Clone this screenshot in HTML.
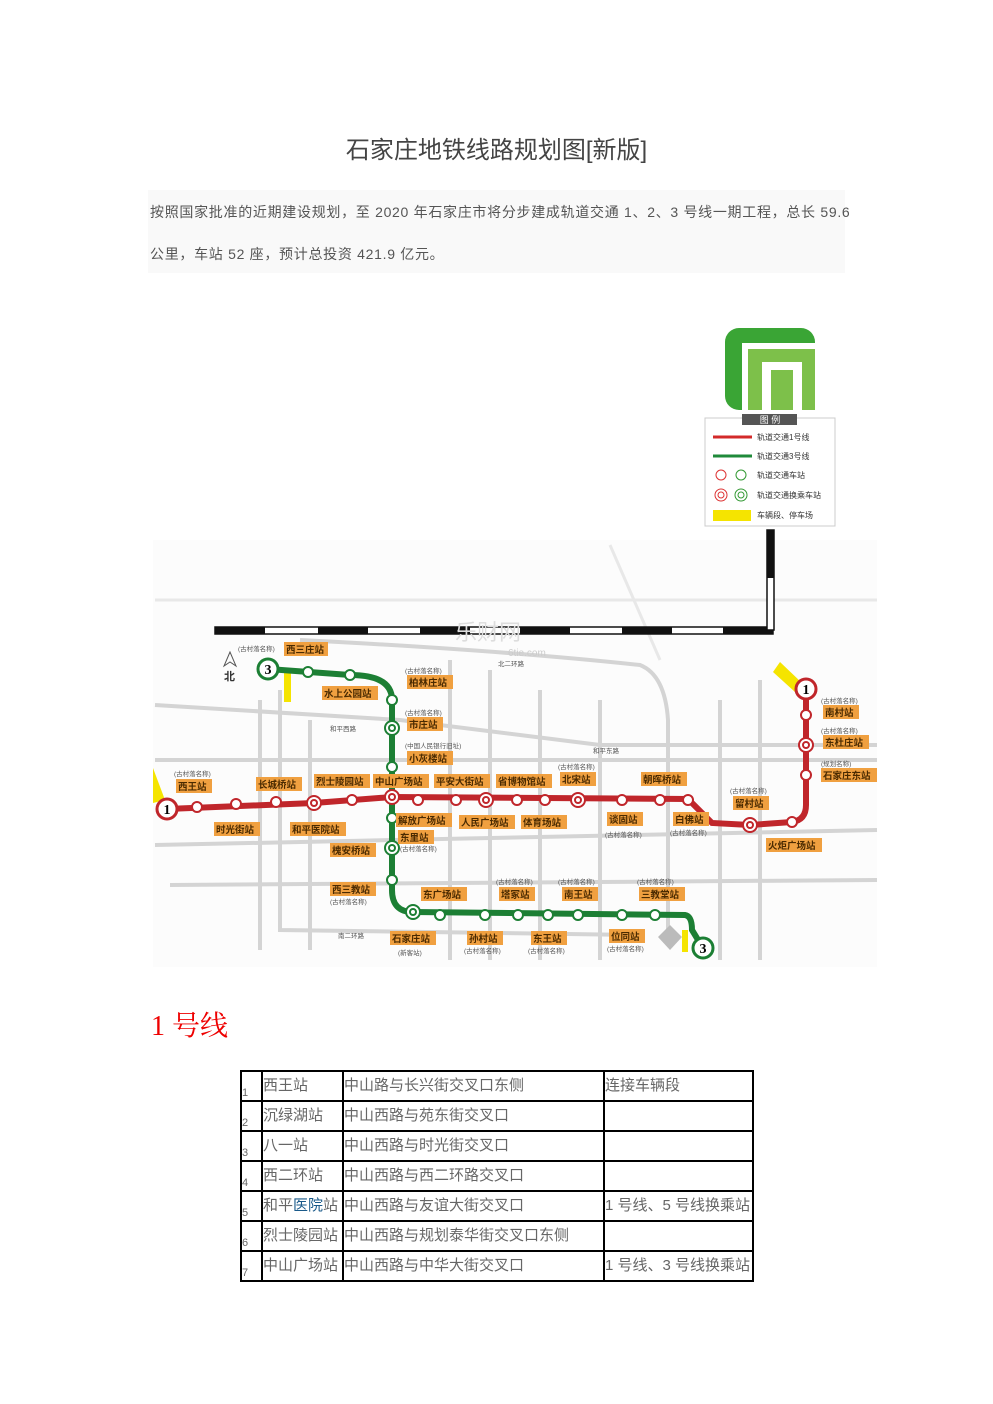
<!DOCTYPE html>
<html><head><meta charset="utf-8"><style>
body{margin:0;width:993px;height:1404px;background:#fff;position:relative;font-family:"Liberation Sans","Noto Sans CJK SC",sans-serif;overflow:hidden}
.a{position:absolute}
table{position:absolute;left:240px;top:1070px;border-collapse:collapse;width:514px}
td{border:2px solid #000;height:28px;padding:0;font-size:15px;color:#666;vertical-align:middle;white-space:nowrap;line-height:28px;overflow:hidden}
td.n{font-size:11px;vertical-align:bottom;line-height:14px}
</style></head><body>
<div class="a" style="left:0;width:993px;top:130px;text-align:center;font-size:24px;color:#444;">石家庄地铁线路规划图[新版]</div>
<div class="a" style="left:148px;top:190px;width:697px;height:83px;background:#f9f9f9"></div>
<div class="a" style="left:150px;top:202px;font-size:14px;letter-spacing:0.7px;color:#555;white-space:nowrap">按照国家批准的近期建设规划，至 2020 年石家庄市将分步建成轨道交通 1、2、3 号线一期工程，总长 59.6</div>
<div class="a" style="left:150px;top:244px;font-size:14px;letter-spacing:0.7px;color:#555;white-space:nowrap">公里，车站 52 座，预计总投资 421.9 亿元。</div>

<svg class="a" style="left:0;top:0" width="993" height="1000" viewBox="0 0 993 1000" font-family="Liberation Sans,Noto Sans CJK SC,sans-serif">
<rect x="725" y="328" width="90" height="82" rx="14" fill="#3aa535"/>
<rect x="742" y="343" width="73" height="67" fill="#fff"/>
<rect x="748" y="349" width="67" height="61" fill="#7dc04a"/>
<rect x="762" y="362" width="40" height="48" fill="#fff"/>
<rect x="771" y="370" width="22" height="40" fill="#7dc04a"/>
<rect x="705" y="418" width="130" height="108" fill="#fff" stroke="#ccc"/>
<rect x="742" y="414" width="55" height="11" fill="#555"/>
<text x="770" y="423" font-size="9" fill="#fff" text-anchor="middle">图 例</text>
<line x1="713" y1="437" x2="752" y2="437" stroke="#d32a2a" stroke-width="3"/>
<line x1="713" y1="456" x2="752" y2="456" stroke="#1f8a3a" stroke-width="3"/>
<circle cx="721" cy="475" r="5" fill="none" stroke="#d33"/><circle cx="741" cy="475" r="5" fill="none" stroke="#393"/>
<circle cx="721" cy="495" r="6" fill="none" stroke="#d33"/><circle cx="721" cy="495" r="3" fill="none" stroke="#d33"/>
<circle cx="741" cy="495" r="6" fill="none" stroke="#393"/><circle cx="741" cy="495" r="3" fill="none" stroke="#393"/>
<rect x="713" y="510" width="38" height="11" fill="#f5e400"/>
<g font-size="8" fill="#333"><text x="757" y="440">轨道交通1号线</text><text x="757" y="459">轨道交通3号线</text><text x="757" y="478">轨道交通车站</text><text x="757" y="498">轨道交通换乘车站</text><text x="757" y="518">车辆段、停车场</text></g>
<rect x="153" y="540" width="724" height="427" fill="#fcfcfc"/>
<g stroke="#d4d4d4" stroke-width="4" fill="none">
<path d="M300 640 Q500 650 640 665 Q665 675 668 720 L668 935"/>
<path d="M280 690 L280 930 L640 935"/>
<path d="M155 705 L400 720 L600 745 L877 745"/>
<path d="M155 845 L877 830"/>
<path d="M170 885 L877 880"/>
<path d="M155 760 L877 760"/>
<path d="M260 700 L260 950"/><path d="M310 720 L310 950"/><path d="M450 660 L450 960"/><path d="M490 670 L490 960"/><path d="M540 690 L540 960"/><path d="M600 700 L600 960"/><path d="M720 700 L720 960"/><path d="M760 680 L760 960"/>
</g>
<g stroke="#e8e8e8" stroke-width="3"><path d="M155 600 L877 600"/><path d="M610 545 L660 660"/></g>
<rect x="215" y="627" width="558" height="7" fill="#fff" stroke="#111" stroke-width="1.5"/>
<g fill="#111"><rect x="215" y="627" width="50" height="7"/><rect x="318" y="627" width="50" height="7"/><rect x="420" y="627" width="50" height="7"/><rect x="520" y="627" width="50" height="7"/><rect x="622" y="627" width="50" height="7"/><rect x="723" y="627" width="50" height="7"/></g>
<rect x="767" y="530" width="7" height="100" fill="#fff" stroke="#111" stroke-width="1.5"/>
<rect x="767" y="530" width="7" height="48" fill="#111"/>
<text x="508" y="656" font-size="10" fill="#ccc">6tie.com</text>
<text x="455" y="640" font-size="22" fill="#ddd">乐财网</text>
<path d="M230 652 L224 666 L230 662 L236 666Z" fill="none" stroke="#555"/><text x="224" y="680" font-size="11" font-weight="bold" fill="#333">北</text>
<path d="M153 768 L165 800 L153 803Z" fill="#f5e400"/>
<path d="M773 672 L780 662 L802 683 L795 692Z" fill="#f5e400"/>
<rect x="284" y="672" width="7" height="30" fill="#f5e400"/>
<rect x="682" y="930" width="6" height="22" fill="#f5e400"/>
<path d="M670 925 L682 937 L670 950 L658 937Z" fill="#bbb"/>
<path d="M167 809 L314 803 L392 797 L688 799 L712 823 L750 825 L792 822 Q806 820 806 805 L806 690" fill="none" stroke="#c0262b" stroke-width="6"/>
<path d="M268 669 L350 675 Q392 675 392 700 L392 890 Q392 912 413 912 L685 915 Q692 916 692 930 L703 948" fill="none" stroke="#1c7f34" stroke-width="6"/>
<g fill="#fff" stroke="#c0262b" stroke-width="2">
<circle cx="197" cy="807" r="5"/><circle cx="236" cy="804" r="5"/><circle cx="276" cy="802" r="5"/><circle cx="352" cy="800" r="5"/><circle cx="418" cy="800" r="5"/><circle cx="456" cy="800" r="5"/><circle cx="517" cy="800" r="5"/><circle cx="545" cy="800" r="5"/><circle cx="622" cy="800" r="5"/><circle cx="660" cy="800" r="5"/><circle cx="688" cy="800" r="5"/><circle cx="792" cy="822" r="5"/><circle cx="806" cy="715" r="5"/><circle cx="806" cy="775" r="5"/>
<circle cx="314" cy="803" r="7"/><circle cx="314" cy="803" r="3"/><circle cx="486" cy="800" r="7"/><circle cx="486" cy="800" r="3"/><circle cx="578" cy="800" r="7"/><circle cx="578" cy="800" r="3"/><circle cx="750" cy="825" r="7"/><circle cx="750" cy="825" r="3"/><circle cx="806" cy="745" r="7"/><circle cx="806" cy="745" r="3"/><circle cx="392" cy="797" r="7"/><circle cx="392" cy="797" r="3"/>
</g>
<g fill="#fff" stroke="#1c7f34" stroke-width="2">
<circle cx="308" cy="672" r="5"/><circle cx="350" cy="675" r="5"/><circle cx="392" cy="700" r="5"/><circle cx="392" cy="767" r="5"/><circle cx="392" cy="818" r="5"/><circle cx="392" cy="880" r="5"/><circle cx="440" cy="915" r="5"/><circle cx="485" cy="915" r="5"/><circle cx="518" cy="915" r="5"/><circle cx="548" cy="915" r="5"/><circle cx="578" cy="915" r="5"/><circle cx="622" cy="915" r="5"/><circle cx="655" cy="915" r="5"/>
<circle cx="392" cy="728" r="7"/><circle cx="392" cy="728" r="3"/><circle cx="392" cy="848" r="7"/><circle cx="392" cy="848" r="3"/><circle cx="413" cy="912" r="7"/><circle cx="413" cy="912" r="3"/>
</g>
<g font-size="14" font-weight="bold" font-family="Liberation Serif,serif" text-anchor="middle">
<circle cx="167" cy="809" r="10" fill="#fff" stroke="#c0262b" stroke-width="3"/><text x="167" y="814">1</text>
<circle cx="806" cy="689" r="10" fill="#fff" stroke="#c0262b" stroke-width="3"/><text x="806" y="694">1</text>
<circle cx="268" cy="669" r="10" fill="#fff" stroke="#1c7f34" stroke-width="3"/><text x="268" y="674">3</text>
<circle cx="703" cy="948" r="10" fill="#fff" stroke="#1c7f34" stroke-width="3"/><text x="703" y="953">3</text>
</g>
<g font-size="9.5" font-weight="bold" fill="#4a2a00">
<g fill="#f0a040">
<rect x="284" y="642" width="44" height="14"/><rect x="322" y="686" width="56" height="14"/><rect x="407" y="675" width="46" height="14"/><rect x="407" y="717" width="36" height="14"/><rect x="407" y="751" width="46" height="14"/>
<rect x="176" y="779" width="36" height="14"/><rect x="256" y="777" width="46" height="14"/><rect x="314" y="774" width="56" height="14"/><rect x="373" y="774" width="56" height="14"/><rect x="434" y="774" width="56" height="14"/><rect x="496" y="774" width="56" height="14"/><rect x="560" y="772" width="36" height="14"/><rect x="641" y="772" width="46" height="14"/><rect x="733" y="796" width="36" height="14"/><rect x="823" y="705" width="36" height="14"/><rect x="823" y="735" width="46" height="14"/><rect x="821" y="768" width="56" height="14"/>
<rect x="214" y="822" width="46" height="14"/><rect x="290" y="822" width="56" height="14"/><rect x="396" y="813" width="56" height="14"/><rect x="459" y="815" width="56" height="14"/><rect x="521" y="815" width="46" height="14"/><rect x="607" y="812" width="36" height="14"/><rect x="673" y="812" width="36" height="14"/><rect x="766" y="838" width="56" height="14"/><rect x="398" y="830" width="36" height="14"/><rect x="330" y="843" width="46" height="14"/>
<rect x="330" y="882" width="46" height="14"/><rect x="421" y="887" width="46" height="14"/><rect x="499" y="887" width="36" height="14"/><rect x="562" y="887" width="36" height="14"/><rect x="639" y="887" width="46" height="14"/>
<rect x="390" y="931" width="46" height="14"/><rect x="467" y="931" width="36" height="14"/><rect x="531" y="931" width="36" height="14"/><rect x="609" y="929" width="36" height="14"/>
</g>
<text x="286" y="653">西三庄站</text><text x="324" y="697">水上公园站</text><text x="409" y="686">柏林庄站</text><text x="409" y="728">市庄站</text><text x="409" y="762">小灰楼站</text>
<text x="178" y="790">西王站</text><text x="258" y="788">长城桥站</text><text x="316" y="785">烈士陵园站</text><text x="375" y="785">中山广场站</text><text x="436" y="785">平安大街站</text><text x="498" y="785">省博物馆站</text><text x="562" y="783">北宋站</text><text x="643" y="783">朝晖桥站</text><text x="735" y="807">留村站</text><text x="825" y="716">南村站</text><text x="825" y="746">东杜庄站</text><text x="823" y="779">石家庄东站</text>
<text x="216" y="833">时光街站</text><text x="292" y="833">和平医院站</text><text x="398" y="824">解放广场站</text><text x="461" y="826">人民广场站</text><text x="523" y="826">体育场站</text><text x="609" y="823">谈固站</text><text x="675" y="823">白佛站</text><text x="768" y="849">火炬广场站</text><text x="400" y="841">东里站</text><text x="332" y="854">槐安桥站</text>
<text x="332" y="893">西三教站</text><text x="423" y="898">东广场站</text><text x="501" y="898">塔冢站</text><text x="564" y="898">南王站</text><text x="641" y="898">三教堂站</text>
<text x="392" y="942">石家庄站</text><text x="469" y="942">孙村站</text><text x="533" y="942">东王站</text><text x="611" y="940">位同站</text>
</g>
<g font-size="6.5" fill="#555">
<text x="238" y="651">(古村落名称)</text><text x="405" y="673">(古村落名称)</text><text x="405" y="715">(古村落名称)</text><text x="405" y="748">(中国人民银行旧址)</text><text x="174" y="776">(古村落名称)</text><text x="558" y="769">(古村落名称)</text><text x="730" y="793">(古村落名称)</text><text x="821" y="703">(古村落名称)</text><text x="821" y="733">(古村落名称)</text><text x="821" y="766">(规划名称)</text>
<text x="400" y="851">(古村落名称)</text><text x="605" y="837">(古村落名称)</text><text x="670" y="835">(古村落名称)</text><text x="330" y="904">(古村落名称)</text><text x="496" y="884">(古村落名称)</text><text x="558" y="884">(古村落名称)</text><text x="637" y="884">(古村落名称)</text>
<text x="398" y="955">(新客站)</text><text x="464" y="953">(古村落名称)</text><text x="528" y="953">(古村落名称)</text><text x="607" y="951">(古村落名称)</text>
<text x="498" y="666">北二环路</text><text x="330" y="731">和平西路</text><text x="593" y="753">和平东路</text><text x="338" y="938">南二环路</text>
</g>
</svg>

<div class="a" style="left:151px;top:1004px;font-size:28px;color:#e00;font-family:'Liberation Serif','Noto Serif CJK SC',serif">1 号线</div>
<table>
<tr><td class="n" style="width:19px">1</td><td style="width:79px">西王站</td><td style="width:259px">中山路与长兴街交叉口东侧</td><td>连接车辆段</td></tr>
<tr><td class="n">2</td><td>沉绿湖站</td><td>中山西路与苑东街交叉口</td><td></td></tr>
<tr><td class="n">3</td><td>八一站</td><td>中山西路与时光街交叉口</td><td></td></tr>
<tr><td class="n">4</td><td>西二环站</td><td>中山西路与西二环路交叉口</td><td></td></tr>
<tr><td class="n">5</td><td>和平<span style="color:#1a5a8a">医院</span>站</td><td>中山西路与友谊大街交叉口</td><td>1 号线、5 号线换乘站</td></tr>
<tr><td class="n">6</td><td>烈士陵园站</td><td>中山西路与规划泰华街交叉口东侧</td><td></td></tr>
<tr><td class="n">7</td><td>中山广场站</td><td>中山西路与中华大街交叉口</td><td>1 号线、3 号线换乘站</td></tr>
</table>
</body></html>
